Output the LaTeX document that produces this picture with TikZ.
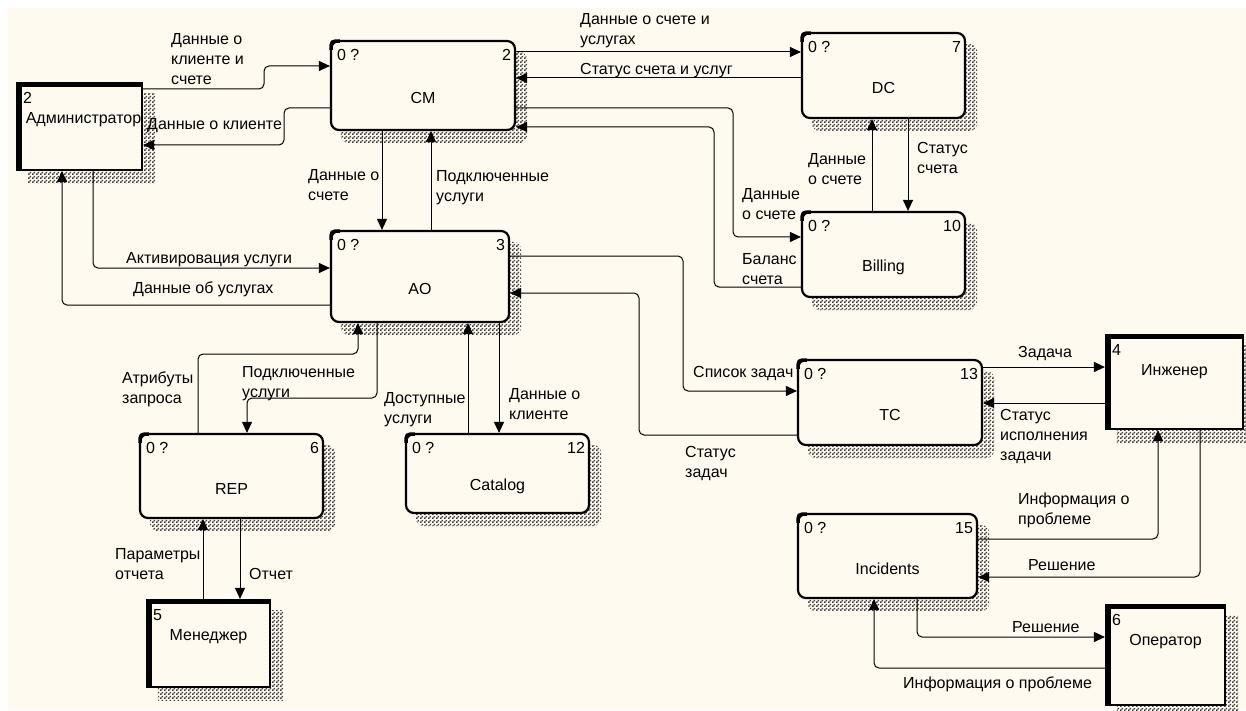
\documentclass[tikz,border=0pt]{standalone}
\usepackage{fontspec}
\setmainfont{Liberation Sans}
\usetikzlibrary{arrows.meta,calc,patterns,fit}

% checkered dither used for the drop shadows
\pgfdeclarepatternformonly{dither}{\pgfpointorigin}{\pgfqpoint{4pt}{4pt}}{\pgfqpoint{4pt}{4pt}}{%
  \pgfpathrectangle{\pgfpointorigin}{\pgfqpoint{2pt}{2pt}}%
  \pgfpathrectangle{\pgfqpoint{2pt}{2pt}}{\pgfqpoint{2pt}{2pt}}%
  \pgfusepath{fill}}

\definecolor{paper}{HTML}{FFFAF0}
\pgfdeclarelayer{backdrop}
\pgfdeclarelayer{shade}
\pgfsetlayers{backdrop,shade,main}

\tikzset{
  txt/.style={font=\fontsize{16}{20}\selectfont, inner sep=0pt, text=black},
  lbl/.style={txt, anchor=north west, align=left},
  proc/.style={draw, line width=2.2pt, rounded corners=8pt, fill=paper, inner sep=0pt},
  ext/.style={draw, line width=2.2pt, fill=paper, inner sep=0pt},
  flow/.style={draw, line width=1pt, rounded corners=5pt,
    -{Triangle[length=11pt,width=10pt]}},
  shadowfill/.style={pattern=dither, pattern color=black!75},
}

% process box: name, corner, corner, number, title
\newcommand{\procbox}[5]{%
  \node[proc, fit={#2 #3}] (#1) {};
  \begin{pgfonlayer}{shade}
    \fill[shadowfill, rounded corners=8pt]
      ($(#1.north west)+(11,12)$) rectangle ($(#1.south east)+(11,12)$);
  \end{pgfonlayer}
  \draw[line width=3.5pt] ($(#1.north west)+(1.2,10)$)
    .. controls ($(#1.north west)+(1.2,1.2)$) .. ($(#1.north west)+(10,1.2)$);
  \node[txt, anchor=north west] (#1-ref) at ($(#1.north west)+(7,9)$) {0 ?};
  \node[txt, anchor=north east] (#1-num) at ($(#1.north east)+(-5,9)$) {#4};
  \node[txt] (#1-name) at ($(#1.center)+(0,12.5)$) {#5};
}

% external entity: name, corner, corner, number, title, title x offset
\newcommand{\extbox}[6]{%
  \node[ext, fit={#2 #3}] (#1) {};
  \begin{pgfonlayer}{shade}
    \fill[shadowfill]
      ($(#1.north west)+(12,12)$) rectangle ($(#1.south east)+(12,12)$);
  \end{pgfonlayer}
  \fill (#1.north west) rectangle ($(#1.south west)+(6,0)$);
  \fill (#1.north west) rectangle ($(#1.north east)+(0,5)$);
  \node[txt, anchor=north west] (#1-num) at ($(#1.north west)+(7,10)$) {#4};
  \node[txt, anchor=north] (#1-name) at ($(#1.north)+(#6,30)$) {#5};
}

\begin{document}
\begin{tikzpicture}[x=1pt,y=-1pt]
\useasboundingbox (0,0) rectangle (1246,711);
\begin{pgfonlayer}{backdrop}
  \fill[white] (0,0) rectangle (1246,711);
  \fill[paper] (8,8) rectangle (1246,710);
\end{pgfonlayer}

% processes
\procbox{cm}{(331,41)}{(515,130)}{2}{CM}
\procbox{ao}{(331,231)}{(509,322)}{3}{AO}
\procbox{dc}{(802,33)}{(965,118)}{7}{DC}
\procbox{bill}{(802,212)}{(965,297)}{10}{Billing}
\procbox{rep}{(140,434)}{(323,518)}{6}{REP}
\procbox{cat}{(406,434)}{(589,513)}{12}{Catalog}
\procbox{tc}{(798,360)}{(982,445)}{13}{TC}
\procbox{inc}{(798,514)}{(977,598)}{15}{Incidents}

% external entities
\extbox{adm}{(17,83)}{(142,170)}{2}{Администратор}{4}
\extbox{mgr}{(147,600)}{(270,687)}{5}{Менеджер}{0}
\extbox{eng}{(1106,335)}{(1243,429)}{4}{Инженер}{0}
\extbox{opr}{(1106,605)}{(1225,705)}{6}{Оператор}{0}

% data flows
\draw[flow] (adm.east |- 0,89) -- (264,89) -- (264,66) -- (cm.west |- 0,66);
\draw[flow] (cm.west |- 0,108) -- (284,108) -- (284,145) -- (adm.east |- 0,145);
\draw[flow] (cm.south -| 382,0) -- (ao.north -| 382,0);
\draw[flow] (ao.north -| 431,0) -- (cm.south -| 431,0);
\draw[flow] (cm.east |- 0,52) -- (dc.west |- 0,52);
\draw[flow] (dc.west |- 0,78) -- (cm.east |- 0,78);
\draw[flow] (cm.east |- 0,108) -- (733,108) -- (733,237) -- (bill.west |- 0,237);
\draw[flow] (bill.west |- 0,287) -- (714,287) -- (714,127) -- (cm.east |- 0,127);
\draw[flow] (bill.north -| 872,0) -- (dc.south -| 872,0);
\draw[flow] (dc.south -| 908,0) -- (bill.north -| 908,0);
\draw[flow] (adm.south -| 93,0) -- (93,268) -- (ao.west |- 0,268);
\draw[flow] (ao.west |- 0,305) -- (62,305) -- (adm.south -| 62,0);
\draw[flow] (ao.east |- 0,256) -- (683,256) -- (683,391) -- (tc.west |- 0,391);
\draw[flow] (tc.west |- 0,435) -- (639,435) -- (639,293) -- (ao.east |- 0,293);
\draw[flow] (ao.south -| 377,0) -- (377,398) -- (247,398) -- (rep.north -| 247,0);
\draw[flow] (rep.north -| 198,0) -- (198,354) -- (358,354) -- (ao.south -| 358,0);
\draw[flow] (cat.north -| 468,0) -- (ao.south -| 468,0);
\draw[flow] (ao.south -| 499,0) -- (cat.north -| 499,0);
\draw[flow] (mgr.north -| 203,0) -- (rep.south -| 203,0);
\draw[flow] (rep.south -| 240,0) -- (mgr.north -| 240,0);
\draw[flow] (tc.east |- 0,367) -- (eng.west |- 0,367);
\draw[flow] (eng.west |- 0,403) -- (tc.east |- 0,403);
\draw[flow] (inc.east |- 0,539) -- (1158,539) -- (eng.south -| 1158,0);
\draw[flow] (eng.south -| 1200,0) -- (1200,577) -- (inc.east |- 0,577);
\draw[flow] (inc.south -| 917,0) -- (917,637) -- (opr.west |- 0,637);
\draw[flow] (opr.west |- 0,668) -- (874,668) -- (inc.south -| 874,0);

% flow labels
\node[lbl] (l1) at (171,33) {Данные о\\клиенте и\\счете};
\node[lbl] (l2) at (147,118) {Данные о клиенте};
\node[lbl] (l3) at (308,169) {Данные о\\счете};
\node[lbl] (l4) at (436,170) {Подключенные\\услуги};
\node[lbl] (l5) at (580,13) {Данные о счете и\\услугах};
\node[lbl] (l6) at (580,63) {Статус счета и услуг};
\node[lbl] (l7) at (742,188) {Данные\\о счете};
\node[lbl] (l8) at (742,253) {Баланс\\счета};
\node[lbl] (l9) at (808,153) {Данные\\о счете};
\node[lbl] (l10) at (917,142) {Статус\\счета};
\node[lbl] (l11) at (126,252) {Активировация услуги};
\node[lbl] (l12) at (133,282) {Данные об услугах};
\node[lbl] (l13) at (693,366) {Список задач};
\node[lbl] (l14) at (685,446) {Статус\\задач};
\node[lbl] (l15) at (122,372) {Атрибуты\\запроса};
\node[lbl] (l16) at (242,366) {Подключенные\\услуги};
\node[lbl] (l17) at (384,392) {Доступные\\услуги};
\node[lbl] (l18) at (509,388) {Данные о\\клиенте};
\node[lbl] (l19) at (115,548) {Параметры\\отчета};
\node[lbl] (l20) at (249,568) {Отчет};
\node[lbl] (l21) at (1018,346) {Задача};
\node[lbl] (l22) at (1000,409) {Статус\\исполнения\\задачи};
\node[lbl] (l23) at (1018,493) {Информация о\\проблеме};
\node[lbl] (l24) at (1028,559) {Решение};
\node[lbl] (l25) at (1012,621) {Решение};
\node[lbl] (l26) at (903,677) {Информация о проблеме};
\end{tikzpicture}
\end{document}
